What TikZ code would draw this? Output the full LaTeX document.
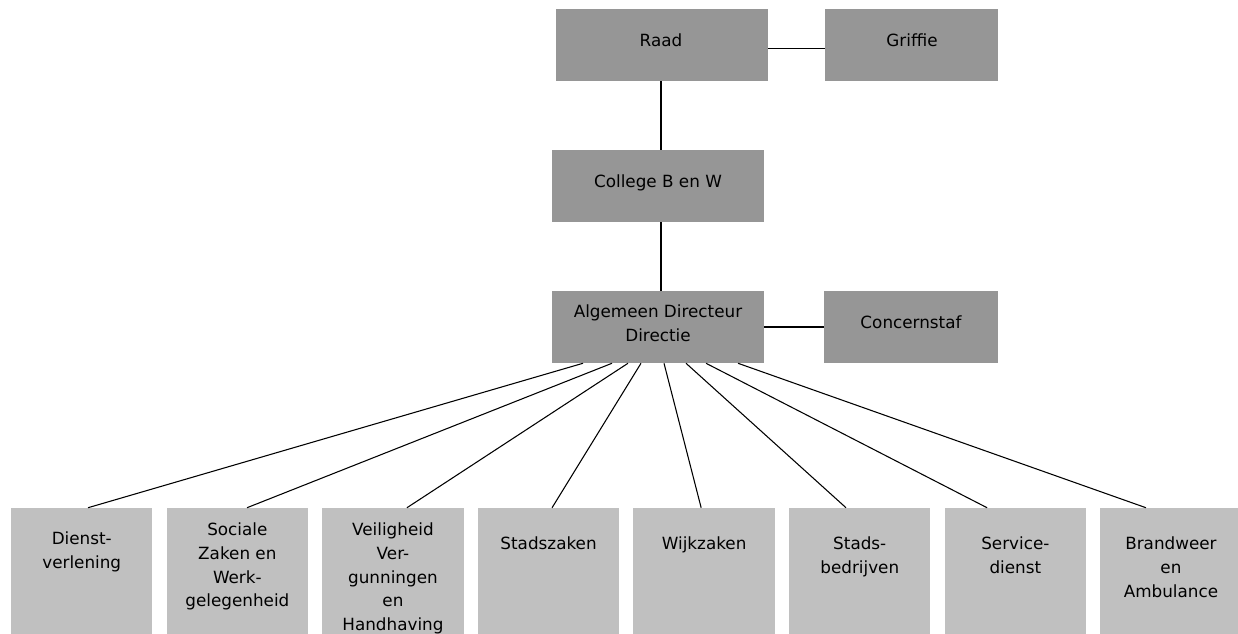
\documentclass[tikz,border=0pt]{standalone}
\usepackage{fontspec}
\setmainfont{DejaVu Sans}
\usetikzlibrary{calc}
\definecolor{mgmtgray}{RGB}{150,150,150}
\definecolor{unitgray}{RGB}{192,192,192}
\begin{document}
\begin{tikzpicture}[x=0.75pt,y=-0.75pt,
  chartfont/.style={font=\fontsize{12.6}{17.8}\selectfont},
  mgmtbox/.style={fill=mgmtgray, draw=none, inner sep=0, minimum height=54pt},
  unitbox/.style={fill=unitgray, draw=none, inner sep=0, minimum width=106.1pt, minimum height=112.5pt},
  boxlabel/.style={chartfont, inner sep=0, text=black, align=center},
  link/.style={draw=black, line width=0.8pt}]
\useasboundingbox (0,0) rectangle (1238,634);
\clip (0,0) rectangle (1238,634);

% management boxes
\node[mgmtbox, minimum width=159pt]    (raad)     at (662,45)    {};
\node[mgmtbox, minimum width=129.75pt] (griffie)  at (911.5,45)  {};
\node[mgmtbox, minimum width=159pt]    (college)  at (658,186)   {};
\node[mgmtbox, minimum width=159pt]    (directie) at (658,327)   {};
\node[mgmtbox, minimum width=130.5pt]  (staf)     at (911,327)   {};

\node[boxlabel, anchor=base]  (raadtxt)     at (661,47)    {Raad};
\node[boxlabel, anchor=base]  (griffietxt)  at (912,47)    {Griffie};
\node[boxlabel, anchor=base]  (collegetxt)  at (658,188)   {College B en W};
\node[boxlabel, anchor=north] (directietxt) at (658,304.5) {Algemeen Directeur\\Directie};
\node[boxlabel, anchor=base]  (staftxt)     at (911,329)   {Concernstaf};

% service units
\node[unitbox] (u1) at (81.75,583)  {};
\node[unitbox] (u2) at (237.35,583) {};
\node[unitbox] (u3) at (392.95,583) {};
\node[unitbox] (u4) at (548.55,583) {};
\node[unitbox] (u5) at (704.15,583) {};
\node[unitbox] (u6) at (859.75,583) {};
\node[unitbox] (u7) at (1015.35,583) {};
\node[unitbox] (u8) at (1170.95,583) {};

\node[boxlabel, anchor=north] (u1txt) at (81.75,531.5)  {Dienst-\\verlening};
\node[boxlabel, anchor=north] (u2txt) at (237.35,522.5) {Sociale\\Zaken en\\Werk-\\gelegenheid};
\node[boxlabel, anchor=north] (u3txt) at (392.95,522.5) {Veiligheid\\Ver-\\gunningen\\en\\Handhaving};
\node[boxlabel, anchor=north] (u4txt) at (548.55,536.5) {Stadszaken};
\node[boxlabel, anchor=north] (u5txt) at (704.15,536.5) {Wijkzaken};
\node[boxlabel, anchor=north] (u6txt) at (859.75,536.5) {Stads-\\bedrijven};
\node[boxlabel, anchor=north] (u7txt) at (1015.35,536.5) {Service-\\dienst};
\node[boxlabel, anchor=north] (u8txt) at (1170.95,536.5) {Brandweer\\en\\Ambulance};

% connectors
\coordinate (spine) at (661,0);
\draw[link] ([yshift=-2.8pt]raad.east) -- ([yshift=-2.8pt]griffie.west);
\draw[link] (raad.south -| spine) -- (college.north -| spine);
\draw[link] (college.south -| spine) -- (directie.north -| spine);
\draw[link] (directie.east) -- (staf.west);

\draw[link] ($(directie.south)+(-75,0)$) -- ($(u1.north)+(6.25,0)$);
\draw[link] ($(directie.south)+(-46,0)$) -- ($(u2.north)+(9.65,0)$);
\draw[link] ($(directie.south)+(-30,0)$) -- ($(u3.north)+(14,0)$);
\draw[link] ($(directie.south)+(-17,0)$) -- ($(u4.north)+(3.5,0)$);
\draw[link] ($(directie.south)+(6,0)$)   -- ($(u5.north)+(-3,0)$);
\draw[link] ($(directie.south)+(28,0)$)  -- ($(u6.north)+(-13.75,0)$);
\draw[link] ($(directie.south)+(48,0)$)  -- ($(u7.north)+(-28.3,0)$);
\draw[link] ($(directie.south)+(80,0)$)  -- ($(u8.north)+(-25,0)$);
\end{tikzpicture}
\end{document}
